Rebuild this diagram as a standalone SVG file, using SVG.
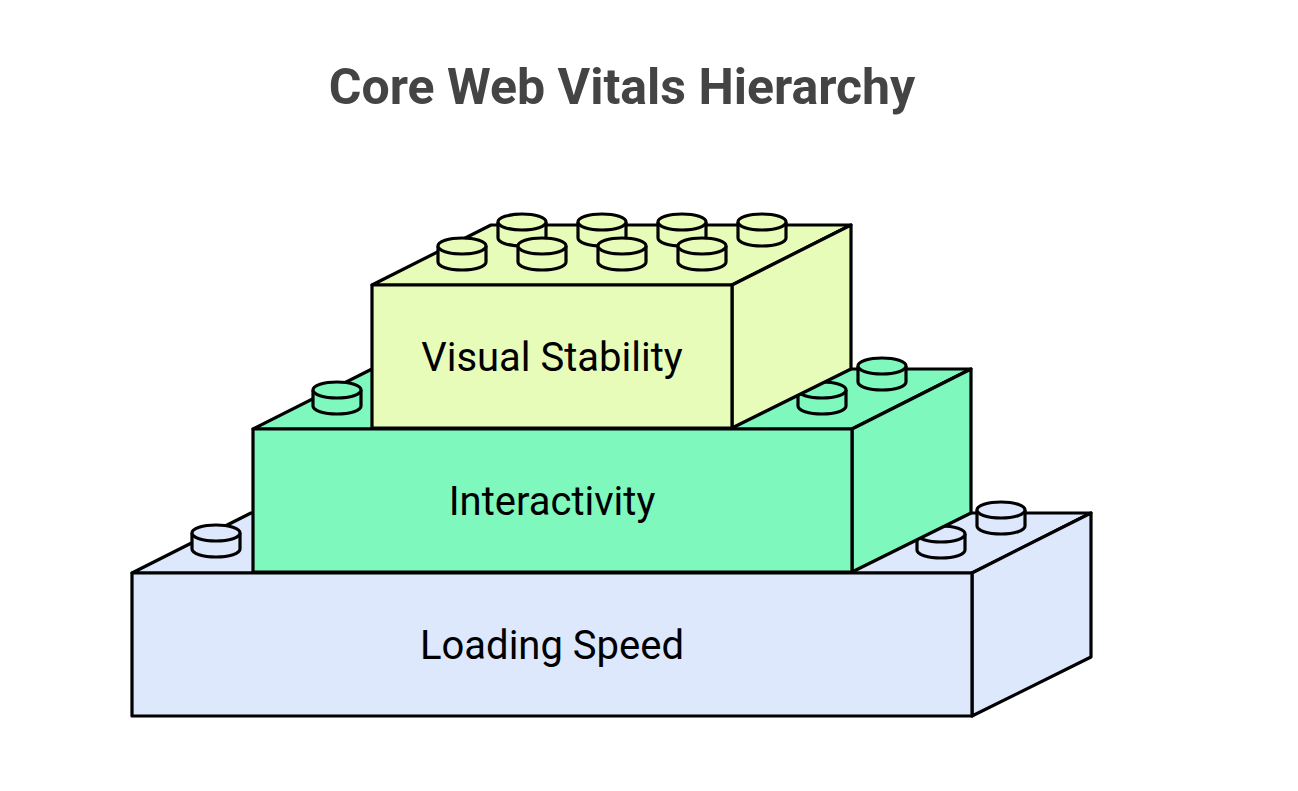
<svg xmlns="http://www.w3.org/2000/svg" width="1298" height="791" viewBox="0 0 1298 791">
<style>
.e{stroke:#000;stroke-width:3.2;stroke-linejoin:round}
.b1{fill:#dde8fd}.b2{fill:#7ef8bd}.b3{fill:#e8fcba}
.lbl{font-family:Roboto,"Liberation Sans",sans-serif;font-size:40px;fill:#000;text-anchor:middle}
.title{font-family:Roboto,"Liberation Sans",sans-serif;font-size:50px;font-weight:bold;fill:#444;text-anchor:middle}
</style>
<defs>
<g id="stud">
<path d="M-24,0 V16 A24,8 0 0 0 24,16 V0" class="e"/>
<ellipse cx="0" cy="0" rx="24" ry="8" class="e"/>
</g>
</defs>
<text class="title" x="622" y="104">Core Web Vitals Hierarchy</text>
<g id="loading-speed" class="b1">
<path class="e" d="M132,573 L251,513 H1091 L972,573 Z"/>
<path class="e" d="M972,573 L1091,513 V657 L972,716 Z"/>
<rect class="e" x="132" y="573" width="840" height="143"/>
<use href="#stud" x="216" y="533"/>
<use href="#stud" x="1001" y="510"/>
<use href="#stud" x="941" y="534"/>
<text class="lbl" x="552" y="659">Loading Speed</text>
</g>
<g id="interactivity" class="b2">
<path class="e" d="M253,429 L372,369 H971 L852,429 Z"/>
<path class="e" d="M852,429 L971,369 V513 L852,572 Z"/>
<rect class="e" x="253" y="429" width="599" height="143"/>
<use href="#stud" x="337" y="390"/>
<use href="#stud" x="882" y="366"/>
<use href="#stud" x="822" y="390"/>
<text class="lbl" x="552" y="515">Interactivity</text>
</g>
<g id="visual-stability" class="b3">
<path class="e" d="M372,285 L491,225 H851 L732,285 Z"/>
<path class="e" d="M732,285 L851,225 V369 L732,428 Z"/>
<rect class="e" x="372" y="285" width="360" height="143"/>
<use href="#stud" x="522" y="222"/>
<use href="#stud" x="602" y="222"/>
<use href="#stud" x="682" y="222"/>
<use href="#stud" x="762" y="222"/>
<use href="#stud" x="462" y="246"/>
<use href="#stud" x="542" y="246"/>
<use href="#stud" x="622" y="246"/>
<use href="#stud" x="702" y="246"/>
<text class="lbl" x="552" y="371">Visual Stability</text>
</g>
<g id="connectors"/>
</svg>
